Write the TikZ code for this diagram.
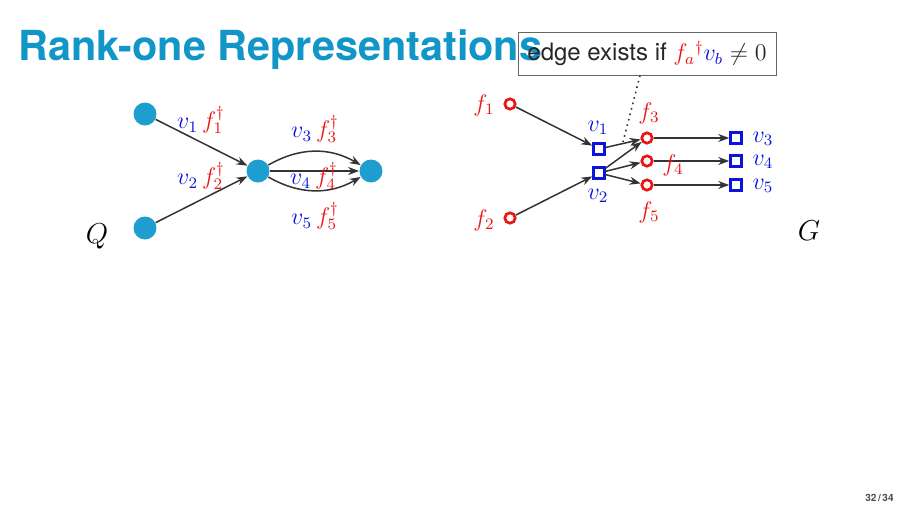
\documentclass[tikz,border=0pt]{standalone}
\usepackage{fontspec}
\setsansfont{TeX Gyre Heros}
\usetikzlibrary{arrows.meta}
\definecolor{titleblue}{RGB}{18,150,200}
\definecolor{qnode}{RGB}{30,158,206}
\definecolor{fred}{RGB}{235,20,20}
\definecolor{vblue}{RGB}{10,20,220}
\begin{document}
\begin{tikzpicture}[x=0.5pt,y=-0.5pt,
  qn/.style={circle,fill=qnode,minimum size=11.5pt,inner sep=0pt},
  fn/.style={circle,draw=fred,line width=1.35pt,minimum size=5.2pt,inner sep=0pt},
  vn/.style={rectangle,draw=vblue,line width=1.35pt,minimum size=5.4pt,inner sep=0pt},
  edge/.style={draw=black!80,line width=0.75pt,-{Stealth[length=5.5pt,width=4pt]}},
  lab/.style={font=\fontsize{12}{14}\selectfont,inner sep=0pt}]
\useasboundingbox (0,0) rectangle (907,510);
% callout frame
\node[draw=black!60,line width=0.5pt,minimum width=129pt,minimum height=21.5pt,inner sep=0pt] (box) at (647,53.5) {};
\coordinate (tip) at (623,142);
\draw[black!80,line width=0.8pt,dotted] (box.south -| 640,0) -- (tip);
% title
\node[anchor=base west,inner sep=0pt,text=titleblue,font=\sffamily\bfseries\fontsize{20.7}{24}\selectfont] (title) at (18,60) {Rank-one Representations};
% callout text
\node[inner sep=0pt,text=black!85,font=\sffamily\fontsize{12}{14}\selectfont] (boxtext) at (box.center) {edge exists if $\color{fred}f_a{}^\dagger\color{vblue}v_b\color{black!85}\neq 0$};
% Q graph
\node[qn] (a1) at (145,114) {};
\node[qn] (a2) at (145,228) {};
\node[qn] (a3) at (258,171) {};
\node[qn] (a4) at (371,171) {};
\draw[edge] (a1) -- (a3);
\draw[edge] (a2) -- (a3);
\draw[edge] (a3) to[bend left=30] (a4);
\draw[edge] (a3) -- (a4);
\draw[edge] (a3) to[bend right=30] (a4);
\node[lab] (l1) at (201,120) {$\color{vblue}v_1\,\color{fred}f_1^\dagger$};
\node[lab] (l2) at (201,176) {$\color{vblue}v_2\,\color{fred}f_2^\dagger$};
\node[lab] (l3) at (315,129) {$\color{vblue}v_3\,\color{fred}f_3^\dagger$};
\node[lab] (l4) at (314,176) {$\color{vblue}v_4\,\color{fred}f_4^\dagger$};
\node[lab] (l5) at (315,216) {$\color{vblue}v_5\,\color{fred}f_5^\dagger$};
\node[lab,font=\fontsize{14}{16}\selectfont] (Q) at (97,236) {$Q$};
% G graph
\node[fn] (f1) at (510,104) {};
\node[fn] (f2) at (510,218) {};
\node[vn] (v1) at (599,149) {};
\node[vn] (v2) at (599,173) {};
\node[fn] (f3) at (647,138) {};
\node[fn] (f4) at (647,161) {};
\node[fn] (f5) at (647,185) {};
\node[vn] (v3) at (736,138) {};
\node[vn] (v4) at (736,161) {};
\node[vn] (v5) at (736,185) {};
\draw[edge] (f1) -- (v1);
\draw[edge] (f2) -- (v2);
\draw[edge] (v1) -- (f3);
\draw[edge] (v2) -- (f3);
\draw[edge] (v2) -- (f4);
\draw[edge] (v2) -- (f5);
\draw[edge] (f3) -- (v3);
\draw[edge] (f4) -- (v4);
\draw[edge] (f5) -- (v5);
\node[lab,text=fred] (tf1) at (484,105) {$f_1$};
\node[lab,text=fred] (tf2) at (484,220) {$f_2$};
\node[lab,text=vblue] (tv1) at (598,128) {$v_1$};
\node[lab,text=vblue] (tv2) at (598,196) {$v_2$};
\node[lab,text=fred] (tf3) at (649,113) {$f_3$};
\node[lab,text=fred] (tf4) at (673,165) {$f_4$};
\node[lab,text=fred] (tf5) at (649,212) {$f_5$};
\node[lab,text=vblue] (tv3) at (763,139) {$v_3$};
\node[lab,text=vblue] (tv4) at (763,162) {$v_4$};
\node[lab,text=vblue] (tv5) at (763,186) {$v_5$};
\node[lab,font=\fontsize{14}{16}\selectfont] (G) at (809,231) {$G$};
% page number
\node[anchor=east,inner sep=0pt,text=black!70,font=\sffamily\bfseries\fontsize{5}{6}\selectfont] (pg) at (894,498) {32\,/\,34};
\end{tikzpicture}
\end{document}
